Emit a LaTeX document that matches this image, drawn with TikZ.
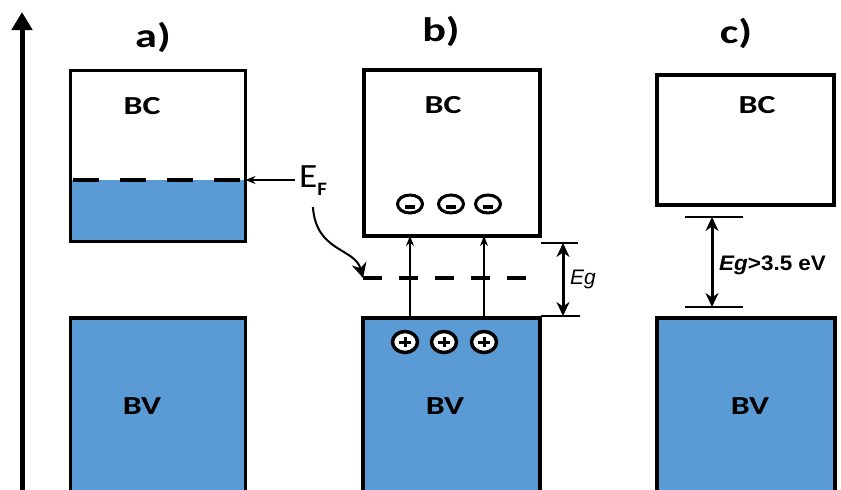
\documentclass[tikz,border=0pt]{standalone}
\usepackage{fontspec}
\setmainfont{Carlito}
\newfontfamily\arialfont{Liberation Sans}
\usetikzlibrary{arrows.meta,shapes.geometric}
\definecolor{bandblue}{RGB}{91,155,213}
\newcommand\widetext[2][1.3]{\scalebox{#1}[1]{#2}}

\begin{document}
\begin{tikzpicture}[x=1pt, y=-1pt,
    band/.style={draw, line width=3.5pt, inner sep=0pt, outer sep=0pt},
    full/.style={band, fill=bandblue},
    lbl/.style={font=\fontsize{26}{26}\selectfont\bfseries},
    panel/.style={font=\fontsize{34}{34}\selectfont\bfseries},
    thin/.style={-{Stealth[length=10pt,width=8pt]}, line width=1.4pt},
    gap/.style={{Stealth[length=14pt,width=13pt]}-{Stealth[length=14pt,width=13pt]}, line width=3pt},
    tick/.style={line width=2pt},
    fermi/.style={line width=4.5pt},
    axis/.style={-{Triangle[length=18pt,width=20pt]}, line width=5pt},
    elec/.style={ellipse, draw, line width=3pt, minimum width=25pt, minimum height=18pt, inner sep=0pt,
                 path picture={\fill ([shift={(-5pt,-0.5pt)}]path picture bounding box.center)
                   rectangle ([shift={(5pt,-4.5pt)}]path picture bounding box.center);}},
    hole/.style={ellipse, draw, fill=white, line width=3.5pt, minimum width=25pt, minimum height=21pt, inner sep=0pt,
                 path picture={\draw[line width=3pt]
                   ([xshift=-6pt]path picture bounding box.center) -- ([xshift=6pt]path picture bounding box.center)
                   ([yshift=-5pt]path picture bounding box.center) -- ([yshift=5pt]path picture bounding box.center);}}
  ]
    \useasboundingbox (0,0) rectangle (841,490);
    \clip (0,0) rectangle (841,490);

    % energy axis
    \coordinate (ax0) at (22,490);
    \coordinate (ax1) at (22,12);
    \draw[axis] (ax0) -- (ax1);

    % a) metal
    \coordinate (fa1) at (73,180);
    \coordinate (fa2) at (245,180);
    \fill[bandblue] (71,180) rectangle (245,241);
    \node[band, minimum width=175pt, minimum height=171pt] (bca) at (158,156) {};
    \node[full, minimum width=175pt, minimum height=200pt] (bva) at (158,418) {};
    \draw[fermi, dash pattern=on 26pt off 21pt] (fa1) -- (fa2);
    \node[panel] (pa) at (153,37) {\widetext{a)}};
    \node[lbl] (ca) at (142,106) {\widetext{BC}};
    \node[lbl] (va) at (142,406) {\widetext{BV}};

    % b) semiconductor
    \node[band, minimum width=176pt, minimum height=166pt] (bcb) at (452,153) {};
    \node[full, minimum width=177pt, minimum height=200pt] (bvb) at (451.5,418) {};
    \coordinate (fb1) at (363,278);
    \coordinate (fb2) at (528,278);
    \draw[line width=4pt, dash pattern=on 19pt off 17pt] (fb1) -- (fb2);
    \node[panel] (pb) at (441,31) {\widetext{b)}};
    \node[lbl] (cb) at (443,105) {\widetext{BC}};
    \node[lbl] (vb) at (445,406) {\widetext{BV}};
    \node[elec] (e1) at (410,204) {};
    \node[elec] (e2) at (451,204) {};
    \node[elec] (e3) at (488,204) {};
    \node[hole] (h1) at (405,342) {};
    \node[hole] (h2) at (444,342) {};
    \node[hole] (h3) at (484,342) {};
    \draw[thin] (e1 |- bvb.north) -- (e1 |- bcb.south);
    \draw[thin] (h3 |- bvb.north) -- (h3 |- bcb.south);
    \coordinate (gbt) at (563,243);
    \coordinate (gbb) at (563,316);
    \draw[tick] ([xshift=-22pt]gbt) -- ([xshift=15pt]gbt);
    \draw[tick] ([xshift=-22pt]gbb) -- ([xshift=17pt]gbb);
    \draw[gap] (gbt) -- (gbb);
    \node[anchor=base west, inner sep=0pt, font=\arialfont\itshape\fontsize{21}{21}\selectfont] (egb) at (570,284) {Eg};

    % Fermi level label
    \node[anchor=base west, inner sep=0pt, outer sep=4pt, font=\fontsize{34}{34}\selectfont] (ef) at (295,187)
      {\widetext[1.1]{E\raisebox{-8pt}{\fontsize{19}{19}\selectfont\bfseries F}}};
    \draw[thin] (ef.west |- fa2) -- (bca.east |- fa2);
    \draw[-{Stealth[length=15pt,width=15pt]}, line width=2pt]
      ([yshift=-8pt]ef.south) .. controls +(3,45) and +(-8,-30) .. (fb1);

    % c) insulator
    \node[band, minimum width=177pt, minimum height=130pt] (bcc) at (745.5,140) {};
    \node[full, minimum width=178pt, minimum height=200pt] (bvc) at (746,418) {};
    \node[panel] (pc) at (736,33) {\widetext{c)}};
    \node[lbl] (cc) at (757,105) {\widetext{BC}};
    \node[lbl] (vc) at (750,406) {\widetext{BV}};
    \coordinate (gct) at (712,217);
    \coordinate (gcb) at (712,307);
    \draw[tick] ([xshift=-27pt]gct) -- ([xshift=31pt]gct);
    \draw[tick] ([xshift=-27pt]gcb) -- ([xshift=31pt]gcb);
    \draw[gap] (gct) -- (gcb);
    \node[anchor=base west, inner sep=0pt, font=\arialfont\bfseries\fontsize{21}{21}\selectfont] (egc) at (719,270)
      {\widetext[1.07]{\textit{Eg}>3.5 eV}};
  \end{tikzpicture}
\end{document}
